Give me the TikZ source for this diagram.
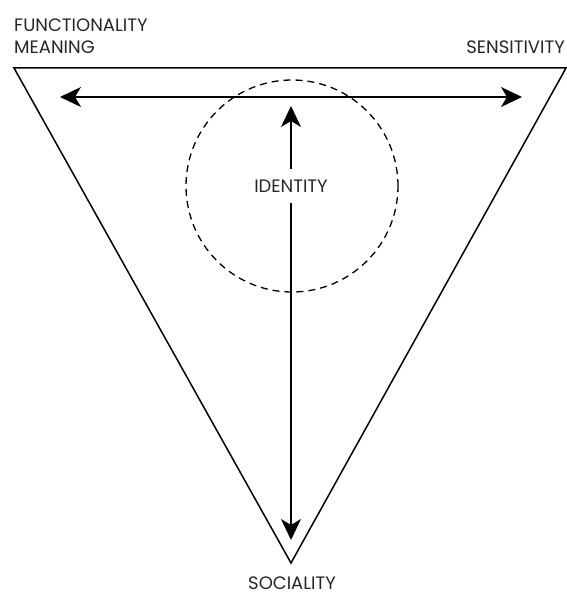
\documentclass[tikz,border=0pt]{standalone}
\usepackage{fontspec}
\setmainfont{Poppins}
\usetikzlibrary{arrows.meta}
\begin{document}
\begin{tikzpicture}[x=1pt,y=-1pt,
  lbl/.style={font=\fontsize{18}{21}\selectfont, inner sep=0pt, text=black!85},
  tri/.style={line width=1.5pt},
  arr/.style={line width=1.7pt, -{Stealth[length=21pt,width=20pt,inset=6pt]}},
  ring/.style={line width=1.3pt, dash pattern=on 7pt off 5pt}]
\useasboundingbox (0,0) rectangle (567,594);
\coordinate (tl) at (14,68);
\coordinate (tr) at (566,68);
\coordinate (bt) at (291,563);
\draw[tri, line join=miter] (tl) -- (tr) -- (bt) -- cycle;
\node[ring, draw, circle, minimum size=212pt, inner sep=0pt] (circ) at (292,186) {};
\coordinate (hl) at (60,97);
\coordinate (hr) at (522,97);
\coordinate (hm) at (291,97);
\draw[arr] (hm) -- (hl);
\draw[arr] (hm) -- (hr);
\node[lbl, inner xsep=4pt, inner ysep=11pt] (id) at (291,186) {IDENTITY};
\coordinate (vt) at (291,106);
\coordinate (vb) at (291,540);
\draw[arr] (id.north -| vt) -- (vt);
\draw[arr] (id.south -| vb) -- (vb);
\node[lbl, anchor=base west] (fn) at (14,32) {FUNCTIONALITY};
\node[lbl, anchor=base west] (mn) at (14,53) {MEANING};
\node[lbl, anchor=base east] (sn) at (565,53) {SENSITIVITY};
\node[lbl, anchor=base] (so) at (292,589) {SOCIALITY};
\end{tikzpicture}
\end{document}
